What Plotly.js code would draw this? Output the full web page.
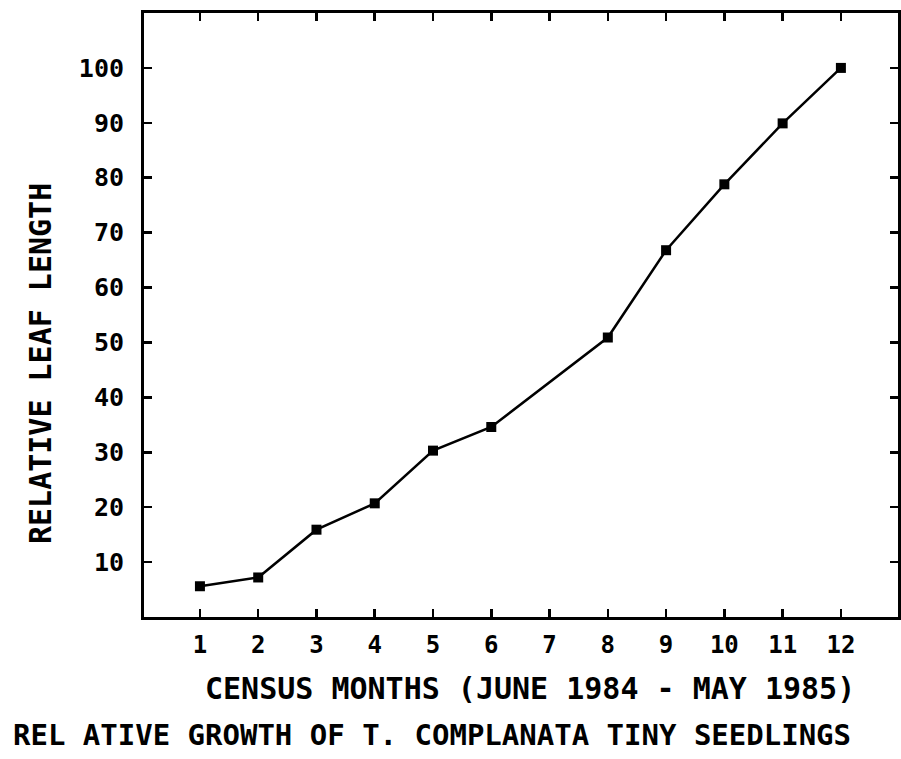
<!DOCTYPE html>
<html>
<head>
<meta charset="utf-8">
<script src="https://cdn.plot.ly/plotly-3.0.1.min.js"></script>
<style>html,body{margin:0;padding:0;background:#fff;}</style>
</head>
<body>
<div id="chart" style="width:901px;height:759px;"></div>
<script>
// Census month index and relative leaf length (%)
const months = [1, 2, 3, 4, 5, 6, 8, 9, 10, 11, 12];
const relLeafLength = [5.6, 7.2, 15.9, 20.7, 30.3, 34.6, 50.9, 66.8, 78.8, 89.9, 100];
const xTickVals = [1, 2, 3, 4, 5, 6, 7, 8, 9, 10, 11, 12];
const yTickVals = [10, 20, 30, 40, 50, 60, 70, 80, 90, 100];

const chartTitle = 'REL ATIVE GROWTH OF T. COMPLANATA TINY SEEDLINGS';
const xTitle = 'CENSUS MONTHS (JUNE 1984 - MAY 1985)';
const yTitle = 'RELATIVE LEAF LENGTH';

const fontFam = '"DejaVu Sans Mono", "Liberation Mono", monospace';

const trace = {
  x: months,
  y: relLeafLength,
  mode: 'lines+markers',
  type: 'scatter',
  line: {color: '#000', width: 2.5},
  marker: {symbol: 'square', size: 10, color: '#000'},
  showlegend: false,
  hoverinfo: 'x+y'
};

const W = 901, H = 759;

const layout = {
  width: W,
  height: H,
  margin: {l: 144, r: 3, t: 13, b: 142},
  paper_bgcolor: '#fff',
  plot_bgcolor: '#fff',
  font: {family: fontFam, color: '#000'},
  title: {
    text: '<b>' + chartTitle + '</b>',
    font: {family: fontFam, size: 29, color: '#000'},
    xref: 'container', x: 432 / W, xanchor: 'center',
    yref: 'container', y: 1 - 735 / H, yanchor: 'middle'
  },
  xaxis: {
    range: [0.04, 12.98],
    tickmode: 'array',
    tickvals: xTickVals,
    ticktext: xTickVals.map(String),
    ticks: 'inside',
    ticklen: 8,
    tickwidth: 2.5,
    tickcolor: '#000',
    showline: true,
    linewidth: 3,
    linecolor: '#000',
    mirror: 'ticks',
    showgrid: false,
    zeroline: false,
    tickfont: {family: fontFam, size: 24, color: '#000', weight: 'bold'},
    ticklabelstandoff: 4
  },
  yaxis: {
    range: [0, 110],
    tickmode: 'array',
    tickvals: yTickVals,
    ticktext: yTickVals.map(String),
    ticks: 'inside',
    ticklen: 8,
    tickwidth: 2.5,
    tickcolor: '#000',
    showline: true,
    linewidth: 3,
    linecolor: '#000',
    mirror: 'ticks',
    showgrid: false,
    zeroline: false,
    tickfont: {family: fontFam, size: 25, color: '#000', weight: 'bold'},
    ticklabelstandoff: 12
  },
  annotations: [
    {
      text: '<b>' + xTitle + '</b>',
      xref: 'paper', yref: 'paper',
      x: (530 - 144) / (898 - 144), xanchor: 'center',
      y: -(688 - 617) / (617 - 13), yanchor: 'middle',
      showarrow: false,
      font: {family: fontFam, size: 30, color: '#000'}
    },
    {
      text: '<b>' + yTitle + '</b>',
      textangle: -90,
      xref: 'paper', yref: 'paper',
      x: -(144 - 40) / (898 - 144), xanchor: 'center',
      y: (617 - 364) / (617 - 13), yanchor: 'middle',
      showarrow: false,
      font: {family: fontFam, size: 30, color: '#000'}
    }
  ]
};

Plotly.newPlot('chart', [trace], layout, {displayModeBar: false, staticPlot: true});
</script>
</body>
</html>
